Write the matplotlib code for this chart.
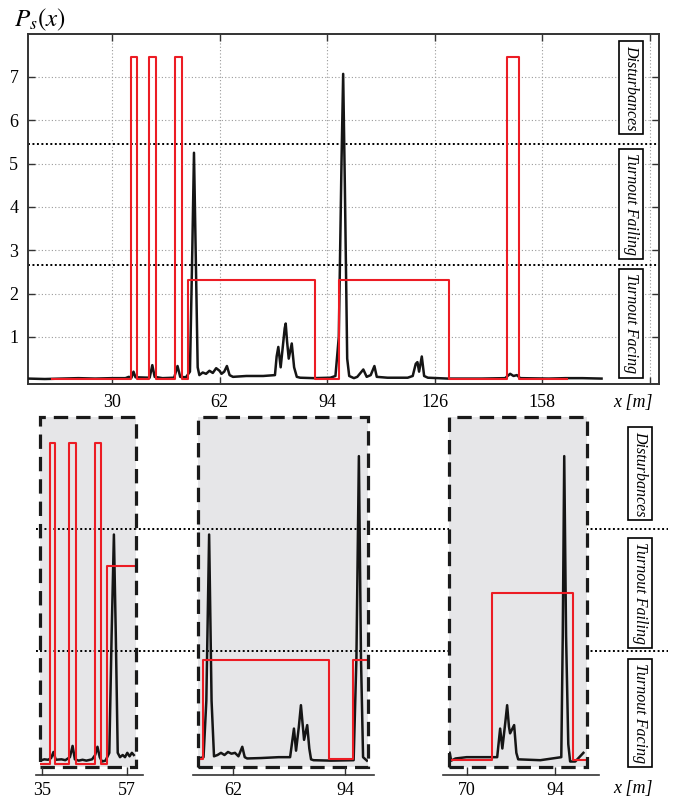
import matplotlib
matplotlib.use('Agg')
from matplotlib import pyplot as plt
from matplotlib.patches import Rectangle

plt.rcParams['font.family'] = ['Liberation Serif', 'DejaVu Serif']
plt.rcParams['mathtext.fontset'] = 'stix'

# ---- data ----
levels = [5.46, 2.66]
zone_labels = ['Disturbances', 'Turnout Failing', 'Turnout Facing']
zone_y = [6.76, 4.06, 1.31]
zone_y_bottom = [6.75, 4.0, 1.22]

top_xticks = [30, 62, 94, 126, 158, 190]
top_xlabels = ['30', '62', '94', '126', '158', '']
top_yticks = [1, 2, 3, 4, 5, 6, 7]

ps_x = [5, 10, 15, 20, 25, 30, 34, 35, 35.8, 36.4, 37.0, 41.2, 42.0, 42.7, 45, 48.5, 49.5,
        50.3, 52.0, 53.2, 53.9, 54.4, 54.9, 55.5, 56, 57, 58, 59, 60, 61, 62, 62.6, 63.4,
        64.2, 65, 66, 70, 75, 78.5, 79.0, 79.5, 80.2, 81.0, 81.4, 81.7, 82.1, 82.6, 83.5,
        84.2, 85, 86, 90, 95, 96.5, 97.5, 98.3, 98.8, 99.3, 100, 100.6, 102, 103, 104.8,
        105.8, 107, 108.1, 108.8, 112, 118, 119.5, 120.4, 120.9, 121.4, 122.2, 122.9, 124,
        130, 140, 147, 148.5, 149.5, 150.5, 151.5, 160, 165, 170, 175.7]
ps_y = [0.04, 0.03, 0.04, 0.05, 0.04, 0.05, 0.05, 0.08, 0.06, 0.2, 0.07, 0.06, 0.35, 0.08,
        0.05, 0.06, 0.33, 0.08, 0.07, 0.2, 3.0, 5.25, 3.0, 0.3, 0.12, 0.18, 0.15, 0.22, 0.17,
        0.28, 0.22, 0.15, 0.2, 0.33, 0.12, 0.08, 0.1, 0.1, 0.12, 0.55, 0.77, 0.3, 0.9, 1.2,
        1.31, 0.9, 0.5, 0.85, 0.3, 0.08, 0.06, 0.05, 0.06, 0.1, 1.0, 5.0, 7.07, 4.5, 0.5,
        0.1, 0.05, 0.08, 0.25, 0.08, 0.12, 0.33, 0.08, 0.06, 0.06, 0.1, 0.38, 0.42, 0.2,
        0.55, 0.1, 0.06, 0.04, 0.04, 0.05, 0.15, 0.1, 0.12, 0.05, 0.04, 0.05, 0.05, 0.04]

cls_x = [12, 35.6, 37.3, 41.1, 43.2, 48.75, 50.7, 52.7, 90.4, 97.5, 130.3, 147.5, 151.1, 165.5]
cls_y = [0.03, 7.45, 0.03, 7.45, 0.03, 7.45, 0.03, 2.32, 0.03, 2.32, 0.03, 7.45, 0.03, 0.03]

# zoomed panels
z1_x = [34.4, 35.5, 36.5, 37.3, 37.9, 38.5, 40, 41, 42.2, 42.9, 43.5, 44.5, 45.5, 46.5, 48,
        48.8, 49.4, 50.0, 50.6, 51.5, 52.5, 53.1, 53.7, 54.2, 54.7, 55.3, 56, 56.6, 57.2,
        57.8, 58.4, 58.9]
z1_y = [0.12, 0.15, 0.14, 0.18, 0.32, 0.14, 0.15, 0.13, 0.2, 0.46, 0.15, 0.12, 0.14, 0.12,
        0.15, 0.25, 0.44, 0.2, 0.1, 0.12, 0.3, 3.0, 5.34, 3.0, 0.3, 0.2, 0.25, 0.2, 0.3,
        0.22, 0.3, 0.25]
z1_cx = [34.4, 37.0, 38.3, 42.0, 43.8, 48.8, 50.3, 51.8, 59.4]
z1_cy = [0.05, 7.45, 0.05, 7.45, 0.05, 7.45, 0.05, 4.62, 4.62]

z2_x = [52.1, 53.5, 54.3, 55.1, 55.8, 56.5, 57.5, 58.5, 59.5, 60.5, 61.5, 62.5, 63.5, 64.6,
        65.3, 66, 70, 75, 78.3, 79.4, 80.0, 80.8, 81.4, 81.9, 82.3, 83.2, 83.8, 84.3, 85,
        90, 96.5, 97.3, 98.0, 98.6, 99.2, 100.3]
z2_y = [0.17, 0.2, 1.5, 5.34, 1.5, 0.22, 0.25, 0.3, 0.25, 0.32, 0.28, 0.3, 0.22, 0.44, 0.2,
        0.17, 0.18, 0.2, 0.2, 0.86, 0.35, 0.9, 1.4, 0.95, 0.6, 0.94, 0.4, 0.15, 0.13, 0.12,
        0.13, 2.5, 7.15, 2.5, 0.2, 0.12]
z2_cx = [52.0, 53.4, 89.4, 96.2, 100.7]
z2_cy = [0.15, 2.44, 0.15, 2.44, 2.44]

z3_x = [65.4, 65.8, 67, 70, 75, 78.3, 79.1, 79.7, 80.5, 81.0, 81.5, 81.8, 82.9, 83.5, 84.0,
        90, 95.7, 96.1, 96.5, 97.0, 97.6, 98.1, 99.5, 101.7]
z3_y = [0.3, 0.12, 0.17, 0.2, 0.2, 0.2, 0.86, 0.4, 1.0, 1.4, 0.9, 0.75, 0.94, 0.3, 0.15,
        0.13, 0.2, 3.0, 7.15, 3.0, 0.5, 0.1, 0.1, 0.3]
z3_cx = [65.3, 77.0, 99.0, 102.4]
z3_cy = [0.13, 4.0, 0.13, 0.13]

panels = [
    dict(x=z1_x, y=z1_y, cx=z1_cx, cy=z1_cy, xlim=(34.3, 59.4), axis=(33.4, 61.3),
         ticks=[35, 57], box=(39.7, 135.7), levels=True),
    dict(x=z2_x, y=z2_y, cx=z2_cx, cy=z2_cy, xlim=(52.0, 100.7), axis=(50.4, 102.3),
         ticks=[62, 94], box=(198.3, 368.3), levels=True),
    dict(x=z3_x, y=z3_y, cx=z3_cx, cy=z3_cy, xlim=(65.3, 102.6), axis=(63.5, 106.0),
         ticks=[70, 94], box=(449.3, 586.7), levels=False),
]

RED = '#ec1c24'
BLACK = '#151515'
GRAY = '#e6e6e8'
W, H = 677, 798


def rect(l, r, t, b):
    return [l / W, 1 - b / H, (r - l) / W, (b - t) / H]


def zone_boxes(ax, xpos, ys):
    for lab, yy in zip(zone_labels, ys):
        ax.text(xpos, yy, lab, transform=ax.get_yaxis_transform(), rotation=-90,
                ha='center', va='center', fontsize=11.5, style='italic', zorder=10,
                bbox=dict(boxstyle='square,pad=0.25', fc='white', ec='black', lw=1.2))


fig = plt.figure(figsize=(W / 100, H / 100), dpi=100)

# ---- top chart ----
ax = fig.add_axes(rect(28, 659, 34, 384))
ax.plot(ps_x, ps_y, color=BLACK, lw=1.8, zorder=3)
ax.plot(cls_x, cls_y, color=RED, lw=1.5, drawstyle='steps-post', zorder=4)
for lv in levels:
    ax.axhline(lv, color='black', lw=1.4, ls=(0, (1, 1.3)), zorder=2)
ax.set_xlim(5, 192.8)
ax.set_ylim(-0.085, 7.99)
ax.set_xticks(top_xticks)
ax.set_xticklabels(top_xlabels)
ax.set_yticks(top_yticks)
ax.grid(True, color='#9a9a9a', ls=(0, (1, 2.0)), lw=0.8)
ax.tick_params(direction='in', top=True, right=True, length=5, width=1.0,
               labelsize=13, color='#333333', pad=7)
for s in ax.spines.values():
    s.set_linewidth(1.4)
    s.set_color('#333333')
zone_boxes(ax, 0.9556, zone_y)
ax.text(0.99, -0.03, 'x [m]', transform=ax.transAxes, ha='right', va='top',
        fontsize=13, style='italic')
fig.text(14 / W, 1 - 26 / H, r'$P_s(x)$', fontsize=18, ha='left', va='baseline')

# ---- bottom: background with the level lines ----
BT, BB = 416.7, 766.7
bylim = (-0.02, 8.06)
bg = fig.add_axes(rect(36, 668, BT, BB), zorder=0)
bg.set_xlim(0, 1)
bg.set_ylim(*bylim)
bg.axis('off')
for lv in levels:
    bg.axhline(lv, color='black', lw=1.4, ls=(0, (1, 1.3)))
zone_boxes(bg, (640 - 36) / (668 - 36), zone_y_bottom)
fig.text(653 / W, 1 - 788 / H, 'x [m]', ha='right', va='center', fontsize=13,
         style='italic')

for p in panels:
    l, r = p['box']
    a, b = p['xlim']
    ppu = (r - l) / (b - a)
    pa = fig.add_axes(rect(l, r, BT, BB), zorder=1)
    pa.set_facecolor(GRAY)
    pa.plot(p['x'], p['y'], color=BLACK, lw=1.8, zorder=3)
    pa.plot(p['cx'], p['cy'], color=RED, lw=1.5, drawstyle='steps-post', zorder=4)
    if p['levels']:
        for lv in levels:
            pa.axhline(lv, color='black', lw=1.4, ls=(0, (1, 1.3)), zorder=2)
    pa.set_xlim(a, b)
    pa.set_ylim(*bylim)
    pa.set_xticks([])
    pa.set_yticks([])
    for s in pa.spines.values():
        s.set_visible(False)
    pa.add_patch(Rectangle((0, 0), 1, 1, transform=pa.transAxes, fill=False,
                           ec='#1a1a1a', lw=2.3, ls=(0, (4.5, 2.5)), clip_on=False,
                           zorder=6))

    c, d = p['axis']
    xl = l + (c - a) * ppu
    xr = l + (d - a) * ppu
    xa = fig.add_axes(rect(xl, xr, 774, 775), zorder=1)
    xa.set_facecolor('none')
    xa.set_xlim(c, d)
    xa.set_yticks([])
    xa.set_xticks(p['ticks'])
    for side in ['left', 'right', 'top']:
        xa.spines[side].set_visible(False)
    xa.spines['bottom'].set_linewidth(1.2)
    xa.spines['bottom'].set_color('#333333')
    xa.tick_params(axis='x', direction='in', length=6, width=1.0, color='#333333',
                   labelsize=13, pad=5)

fig.savefig('out.png', dpi=100)
